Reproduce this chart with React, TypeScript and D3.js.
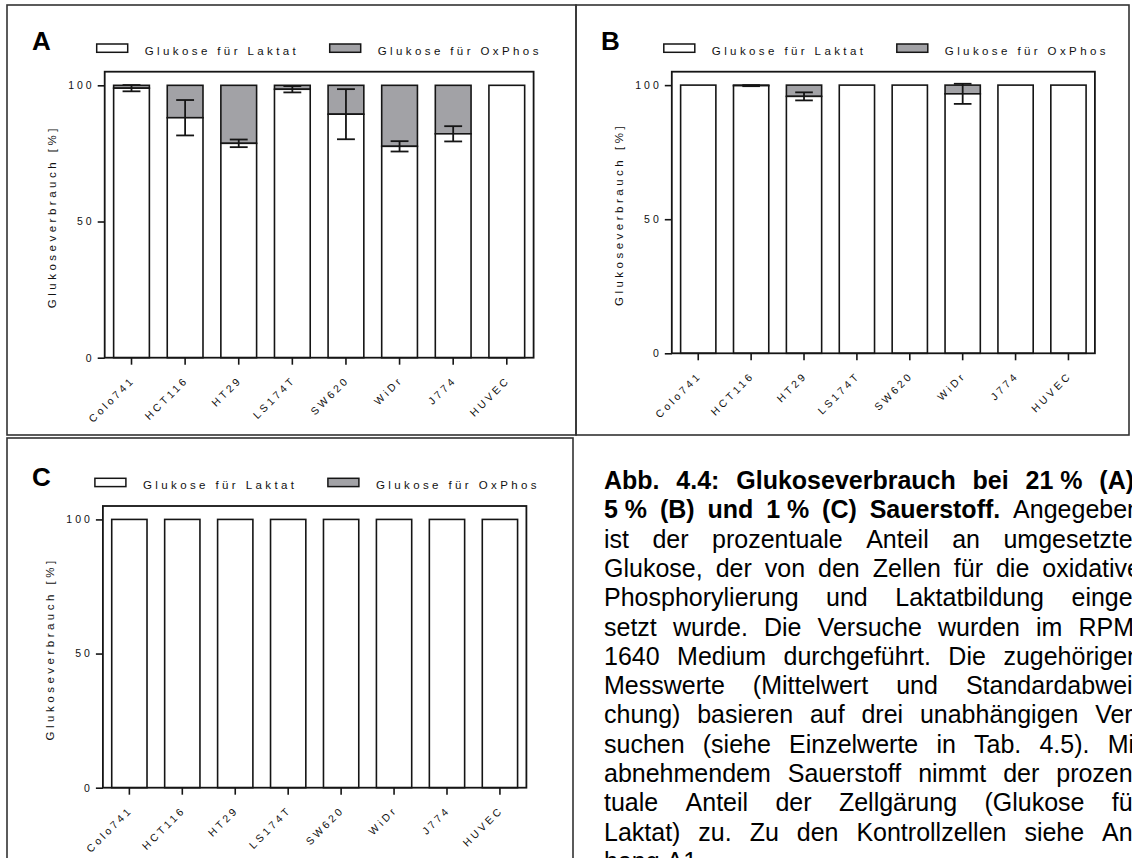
import React, { useEffect, useMemo, useRef } from 'react';
import * as d3 from 'd3';

const FONT = 'Arial, "Liberation Sans", Helvetica, sans-serif';

// Cell lines on the x axis
const cellLines = ['Colo741', 'HCT116', 'HT29', 'LS174T', 'SW620', 'WiDr', 'J774', 'HUVEC'];

// Share of glucose used for lactate (%); the remainder up to 100 % is OxPhos
const laktat21 = [98.95, 88.1, 78.7, 98.55, 89.4, 77.6, 82.2, 100];
const sd21 = [1.15, 6.5, 1.4, 1.15, 9.2, 1.9, 2.8, 0];
const laktat5 = [100, 99.8, 95.8, 100, 100, 96.75, 100, 100];
const sd5 = [0, 0.2, 1.5, 0, 0, 3.75, 0, 0];
const laktat1 = [100, 100, 100, 100, 100, 100, 100, 100];
const sd1 = [0, 0, 0, 0, 0, 0, 0, 0];

const total = 100;
const yTicks = [0, 50, 100];
const yMax = 105;
const legendLabels = ['Glukose für Laktat', 'Glukose für OxPhos'];
const yTitle = 'Glukoseverbrauch [%]';

const NB = '\u00a0';
// Caption, line by line as typeset (segments: [text, bold])
const captionLines: [string, boolean][][] = [
  [[`Abb. 4.4: Glukoseverbrauch bei 21${NB}% (A),`, true]],
  [[`5${NB}% (B) und 1${NB}% (C) Sauerstoff.`, true], ['Angegeben', false]],
  [['ist der prozentuale Anteil an umgesetzter', false]],
  [['Glukose, der von den Zellen für die oxidative', false]],
  [['Phosphorylierung und Laktatbildung einge-', false]],
  [['setzt wurde. Die Versuche wurden im RPMI', false]],
  [['1640 Medium durchgeführt. Die zugehörigen', false]],
  [['Messwerte (Mittelwert und Standardabwei-', false]],
  [['chung) basieren auf drei unabhängigen Ver-', false]],
  [['suchen (siehe Einzelwerte in Tab. 4.5). Mit', false]],
  [['abnehmendem Sauerstoff nimmt der prozen-', false]],
  [['tuale Anteil der Zellgärung (Glukose für', false]],
  [['Laktat) zu. Zu den Kontrollzellen siehe An-', false]],
  [['hang A1.', false]],
];

const OX_FILL = '#a2a2a6';
const INK = '#151515';
const TEXT = '#111';
const SMALL_FS = 11.5;
const SMALL_LS = '3.4px';
const TICK_FS = 10.5;
const TICK_LS = '3px';

type Frame = { l: number; r: number; t: number; b: number };
type PanelCfg = {
  letter: string;
  laktat: number[];
  sd: number[];
  box: [number, number, number, number];
  frame: Frame;
  letterXY: [number, number];
};

const panels: PanelCfg[] = [
  { letter: 'A', laktat: laktat21, sd: sd21, box: [7, 5, 576, 435], frame: { l: 104.7, r: 533.6, t: 71.7, b: 357.7 }, letterXY: [32, 50] },
  { letter: 'B', laktat: laktat5, sd: sd5, box: [576, 5, 1129, 435], frame: { l: 671.8, r: 1094.9, t: 71.7, b: 353.3 }, letterXY: [601, 50] },
  { letter: 'C', laktat: laktat1, sd: sd1, box: [7, 438, 573, 900], frame: { l: 102.9, r: 526.4, t: 506, b: 787.7 }, letterXY: [32, 485.5] },
];

function Panel({ cfg }: { cfg: PanelCfg }) {
  const yAxisRef = useRef<SVGGElement>(null);
  const xAxisRef = useRef<SVGGElement>(null);
  const { l, r, t, b } = cfg.frame;

  const x = d3.scaleBand<string>().domain(cellLines).range([l, r]).paddingInner(1 / 3).paddingOuter(1 / 6);
  const y = d3.scaleLinear().domain([0, yMax]).range([b, t]);

  useEffect(() => {
    const ya = d3.select(yAxisRef.current!);
    ya.call(d3.axisLeft(y).tickValues(yTicks).tickSize(7).tickPadding(3).tickFormat(d3.format('d')) as any);
    ya.select('.domain').remove();
    ya.selectAll('.tick line').attr('stroke', INK).attr('stroke-width', 1.6);
    ya.selectAll('.tick text')
      .attr('font-family', FONT)
      .attr('font-size', TICK_FS)
      .attr('fill', TEXT)
      .style('letter-spacing', TICK_LS);

    const xa = d3.select(xAxisRef.current!);
    xa.call(d3.axisBottom(x).tickSize(7).tickPadding(0) as any);
    xa.select('.domain').remove();
    xa.selectAll('.tick line').attr('stroke', INK).attr('stroke-width', 1.6);
    xa.selectAll('.tick text')
      .attr('font-family', FONT)
      .attr('font-size', TICK_FS)
      .attr('fill', TEXT)
      .attr('x', 0)
      .attr('y', 0)
      .attr('dy', 0)
      .attr('text-anchor', 'end')
      .attr('transform', 'translate(4,23) rotate(-45)')
      .style('letter-spacing', TICK_LS);
  });

  const bw = x.bandwidth();
  const capW = bw * 0.5;
  const [bx0, by0, bx1, by1] = cfg.box;
  const legendY = t - 27.7;
  const legendBase = t - 16.7;

  return (
    <g>
      <rect x={bx0} y={by0} width={bx1 - bx0} height={by1 - by0} fill="none" stroke="#333" strokeWidth={1.6} />
      <text x={cfg.letterXY[0]} y={cfg.letterXY[1]} fontFamily={FONT} fontWeight="bold" fontSize={26} fill="#000">
        {cfg.letter}
      </text>

      {/* legend */}
      <rect x={l - 8} y={legendY} width={31} height={8.3} fill="#fff" stroke={INK} strokeWidth={1.5} />
      <text x={l + 40} y={legendBase} fontFamily={FONT} fontSize={SMALL_FS} fill={TEXT} style={{ letterSpacing: SMALL_LS }}>
        {legendLabels[0]}
      </text>
      <rect x={l + 225} y={legendY} width={31} height={8.3} fill={OX_FILL} stroke={INK} strokeWidth={1.5} />
      <text x={l + 273} y={legendBase} fontFamily={FONT} fontSize={SMALL_FS} fill={TEXT} style={{ letterSpacing: SMALL_LS }}>
        {legendLabels[1]}
      </text>

      {/* stacked bars */}
      {cellLines.map((c, i) => {
        const v = cfg.laktat[i];
        const x0 = x(c)!;
        return (
          <g key={c}>
            {total - v > 0 && (
              <rect x={x0} y={y(total)} width={bw} height={y(v) - y(total)} fill={OX_FILL} stroke={INK} strokeWidth={1.6} />
            )}
            <rect x={x0} y={y(v)} width={bw} height={y(0) - y(v)} fill="#fff" stroke={INK} strokeWidth={1.6} />
          </g>
        );
      })}

      {/* error bars */}
      {cellLines.map((c, i) => {
        const sd = cfg.sd[i];
        if (!sd) return null;
        const v = cfg.laktat[i];
        const cx = x(c)! + bw / 2;
        const yHi = y(v + sd);
        const yLo = y(v - sd);
        return (
          <g key={'e' + c} stroke={INK} strokeWidth={1.8}>
            <line x1={cx} x2={cx} y1={yHi} y2={yLo} />
            <line x1={cx - capW / 2} x2={cx + capW / 2} y1={yHi} y2={yHi} />
            <line x1={cx - capW / 2} x2={cx + capW / 2} y1={yLo} y2={yLo} />
          </g>
        );
      })}

      {/* plot frame */}
      <rect x={l} y={t} width={r - l} height={b - t} fill="none" stroke={INK} strokeWidth={1.8} />

      <g ref={yAxisRef} transform={`translate(${l},0)`} />
      <g ref={xAxisRef} transform={`translate(0,${b})`} />

      <text
        transform={`translate(${l - 49},${(t + b) / 2 + 2}) rotate(-90)`}
        textAnchor="middle"
        fontFamily={FONT}
        fontSize={SMALL_FS}
        fill={TEXT}
        style={{ letterSpacing: '3.5px' }}
      >
        {yTitle}
      </text>
    </g>
  );
}

const CAP_L = 604;
const CAP_R = 1141;
const CAP_TOP = 489;
const CAP_LH = 29.3;
const CAP_FS = 25;

function Caption() {
  const words = useMemo(() => {
    const canvas = document.createElement('canvas');
    const ctx = canvas.getContext('2d')!;
    const out: { text: string; bold: boolean; x: number; y: number }[] = [];
    captionLines.forEach((segs, li) => {
      const toks: { text: string; bold: boolean; w: number }[] = [];
      segs.forEach(([s, bold]) => {
        ctx.font = `${bold ? 'bold ' : ''}${CAP_FS}px Arial`;
        s.split(' ').forEach((w) => toks.push({ text: w, bold, w: ctx.measureText(w).width }));
      });
      const last = li === captionLines.length - 1;
      const sum = d3.sum(toks, (d) => d.w);
      ctx.font = `${CAP_FS}px Arial`;
      const gap = last || toks.length < 2 ? ctx.measureText(' ').width : (CAP_R - CAP_L - sum) / (toks.length - 1);
      let cx = CAP_L;
      toks.forEach((tk) => {
        out.push({ text: tk.text, bold: tk.bold, x: cx, y: CAP_TOP + li * CAP_LH });
        cx += tk.w + gap;
      });
    });
    return out;
  }, []);

  return (
    <g fontFamily={FONT} fontSize={CAP_FS} fill="#000">
      {words.map((w, i) => (
        <text key={i} x={w.x} y={w.y} fontWeight={w.bold ? 'bold' : 'normal'}>
          {w.text}
        </text>
      ))}
    </g>
  );
}

export default function App() {
  return (
    <div style={{ position: 'absolute', left: 0, top: 0 }}>
      <svg width={1132} height={858} style={{ display: 'block' }}>
        <rect x={0} y={0} width={1132} height={858} fill="#fff" />
        {panels.map((p) => (
          <Panel key={p.letter} cfg={p} />
        ))}
        <Caption />
      </svg>
    </div>
  );
}
